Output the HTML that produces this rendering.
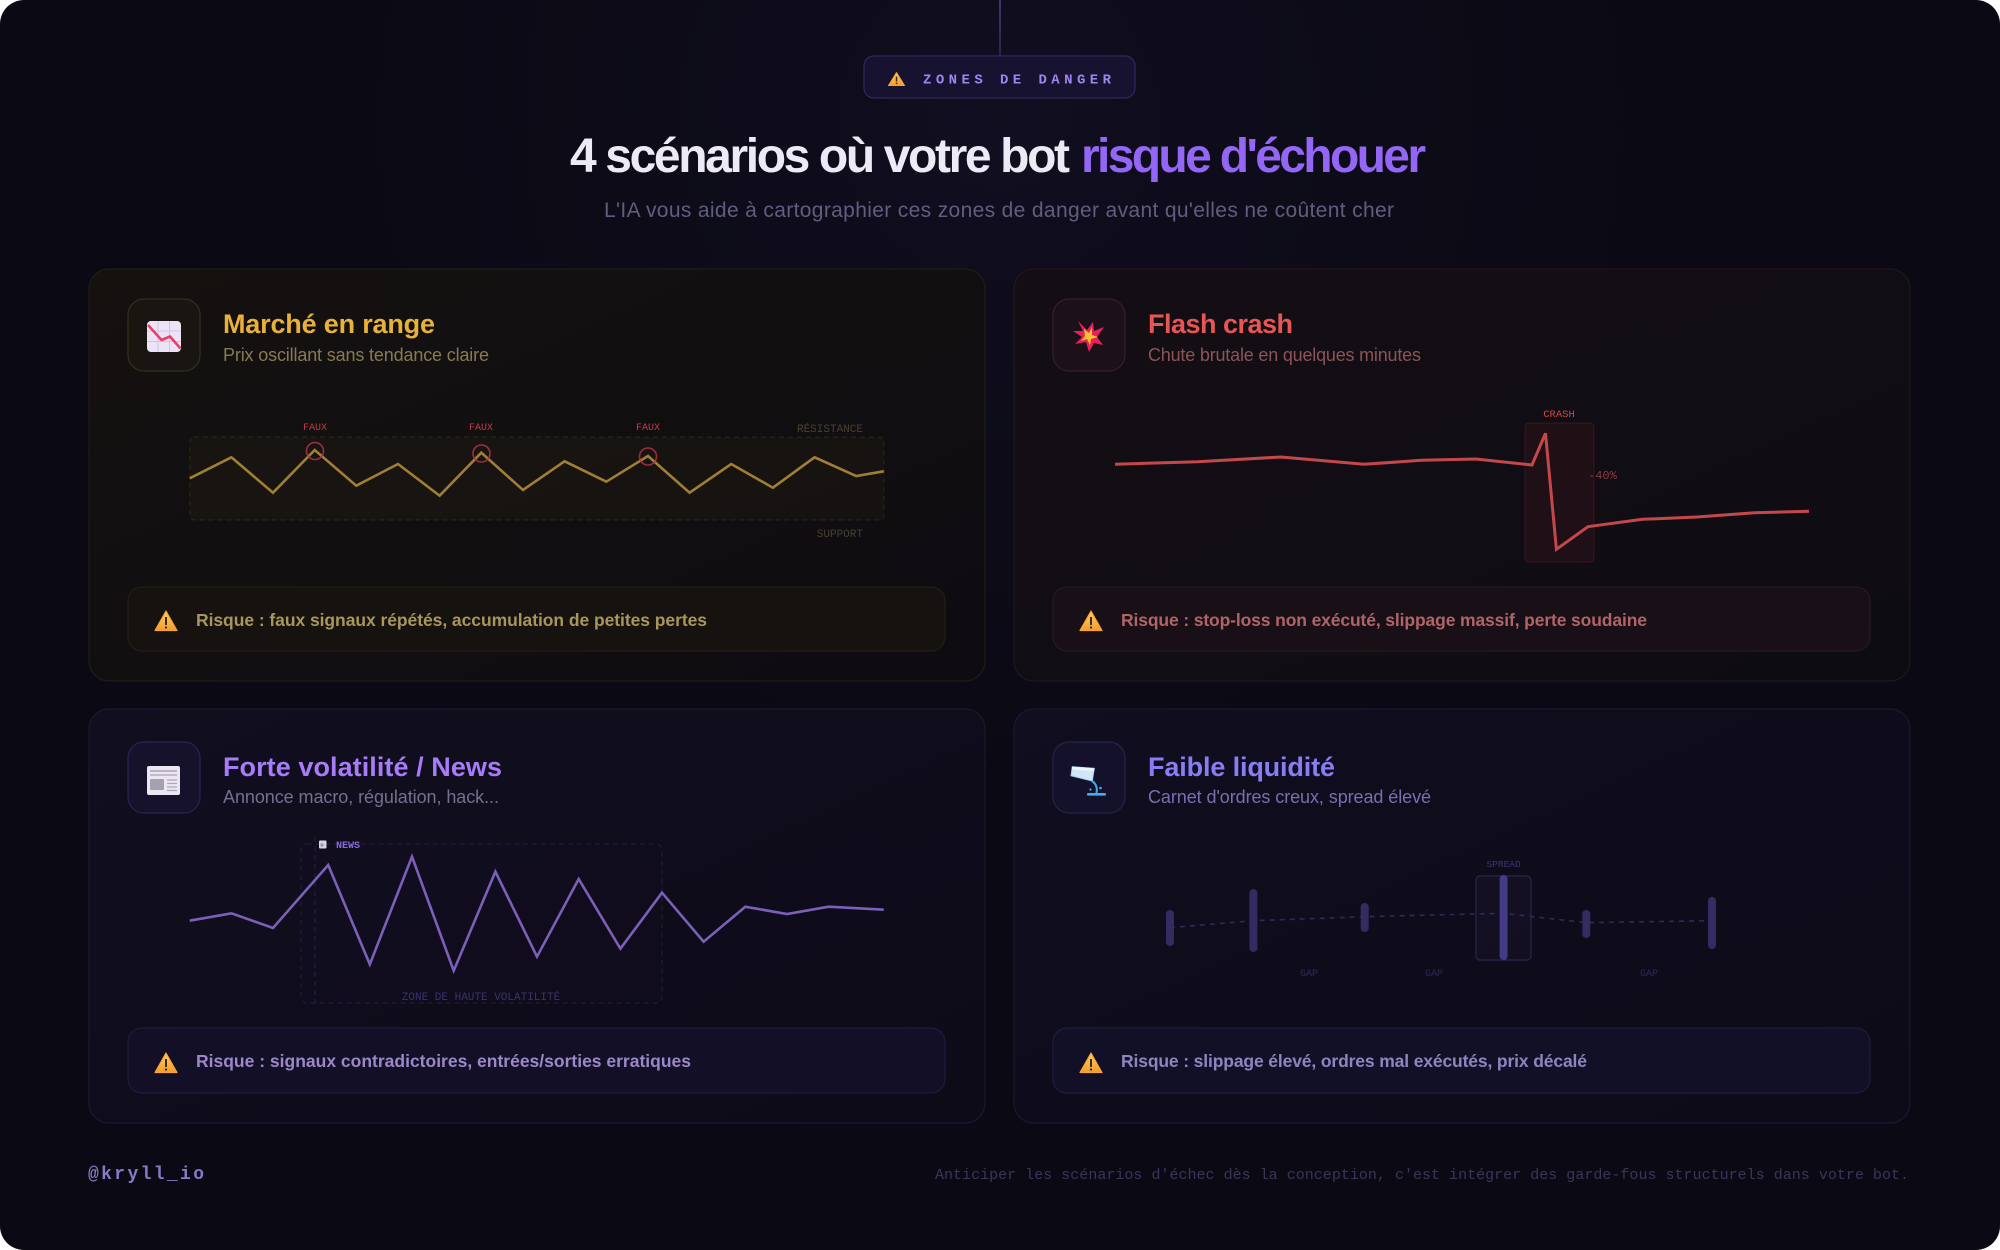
<!DOCTYPE html>
<html>
<head>
<meta charset="utf-8">
<style>
  html,body{margin:0;padding:0;background:#ffffff;}
  svg{display:block;}
</style>
</head>
<body>
<svg width="2000" height="1250" viewBox="0 0 2000 1250" xmlns="http://www.w3.org/2000/svg">
  <defs>
    <radialGradient id="glow" cx="1000" cy="120" r="800" gradientUnits="userSpaceOnUse">
      <stop offset="0" stop-color="#181330" stop-opacity="0.45"/>
      <stop offset="1" stop-color="#0b0a14" stop-opacity="0"/>
    </radialGradient>
    <linearGradient id="vline" x1="0" y1="0" x2="0" y2="1">
      <stop offset="0" stop-color="#6a55b0" stop-opacity="0.55"/>
      <stop offset="0.7" stop-color="#6a55b0" stop-opacity="0.25"/>
      <stop offset="1" stop-color="#6a55b0" stop-opacity="0"/>
    </linearGradient>
    <linearGradient id="g1" x1="0" y1="0" x2="1" y2="1">
      <stop offset="0" stop-color="#14110f"/>
      <stop offset="1" stop-color="#0e0c11"/>
    </linearGradient>
    <linearGradient id="g2" x1="0" y1="0" x2="1" y2="1">
      <stop offset="0" stop-color="#140e14"/>
      <stop offset="1" stop-color="#0e0c13"/>
    </linearGradient>
    <linearGradient id="g3" x1="0" y1="0" x2="1" y2="1">
      <stop offset="0" stop-color="#110e1f"/>
      <stop offset="1" stop-color="#0d0b17"/>
    </linearGradient>
    <linearGradient id="g4" x1="0" y1="0" x2="1" y2="1">
      <stop offset="0" stop-color="#100e1f"/>
      <stop offset="1" stop-color="#0d0b17"/>
    </linearGradient>
    <linearGradient id="warn" x1="0" y1="0" x2="0" y2="1">
      <stop offset="0" stop-color="#ffd45a"/>
      <stop offset="1" stop-color="#f59a30"/>
    </linearGradient>
  </defs>

  <!-- page background -->
  <rect x="0" y="0" width="2000" height="1250" rx="24" fill="#0b0a14"/>
  <rect x="0" y="0" width="2000" height="1250" rx="24" fill="url(#glow)"/>

  <!-- top vertical line -->
  <rect x="999" y="0" width="2" height="100" fill="url(#vline)"/>

  <!-- badge -->
  <rect x="864" y="56" width="271" height="42" rx="10" fill="#171230" stroke="#33275e" stroke-width="1.2"/>
  <g>
    <path d="M896.5,72.5 L904.5,85.5 L888.5,85.5 Z" fill="url(#warn)" stroke="#f5a238" stroke-width="1" stroke-linejoin="round"/>
    <rect x="895.8" y="76.5" width="1.5" height="5" fill="#3a2a10"/>
    <rect x="895.8" y="82.6" width="1.5" height="1.5" fill="#3a2a10"/>
  </g>
  <text x="923" y="83.5" font-family="'Liberation Mono', monospace" font-weight="bold" font-size="14" fill="#a084f0" textLength="188" lengthAdjust="spacing">ZONES DE DANGER</text>

  <!-- title -->
  <text x="570" y="172" font-family="'Liberation Sans', sans-serif" font-weight="bold" font-size="48" fill="#ecebf5" textLength="500" lengthAdjust="spacing">4 scénarios où votre bot</text>
  <text x="1081" y="172" font-family="'Liberation Sans', sans-serif" font-weight="bold" font-size="48" fill="#9466f5" textLength="345" lengthAdjust="spacing">risque d'échouer</text>

  <!-- subtitle -->
  <text x="604" y="217" font-family="'Liberation Sans', sans-serif" font-size="21" fill="#625c7e" textLength="790" lengthAdjust="spacing">L'IA vous aide à cartographier ces zones de danger avant qu'elles ne coûtent cher</text>

  <!-- ================= CARD 1 ================= -->
  <rect x="89" y="269" width="896" height="412" rx="20" fill="url(#g1)" stroke="#211c18" stroke-width="1.2"/>
  <rect x="128" y="299" width="72" height="72" rx="16" fill="#191510" stroke="#362e1f" stroke-width="1.2"/>
  <!-- chart decreasing icon -->
  <rect x="147" y="321" width="34" height="31" rx="4" fill="#ece4f6"/>
  <line x1="158" y1="321" x2="158" y2="352" stroke="#cfc5e0" stroke-width="1"/>
  <line x1="169.5" y1="321" x2="169.5" y2="352" stroke="#cfc5e0" stroke-width="1"/>
  <line x1="147" y1="331" x2="181" y2="331" stroke="#cfc5e0" stroke-width="1"/>
  <line x1="147" y1="341.5" x2="181" y2="341.5" stroke="#cfc5e0" stroke-width="1"/>
  <polyline points="148,325 161.5,340 170,336.5 180.5,348.5" fill="none" stroke="#e8406a" stroke-width="2.6" stroke-linejoin="round"/>

  <text x="223" y="333" font-family="'Liberation Sans', sans-serif" font-weight="bold" font-size="27" fill="#e8b23a" textLength="212" lengthAdjust="spacing">Marché en range</text>
  <text x="223" y="361" font-family="'Liberation Sans', sans-serif" font-size="18" fill="#8a7a52" textLength="266" lengthAdjust="spacing">Prix oscillant sans tendance claire</text>

  <!-- range chart -->
  <rect x="190" y="437" width="694" height="83" rx="4" fill="#e8b23a" fill-opacity="0.03" stroke="#e8b23a" stroke-opacity="0.11" stroke-width="1.2" stroke-dasharray="5 4"/>
  <text x="315" y="430" text-anchor="middle" font-family="'Liberation Mono', monospace" font-size="10" fill="#c83a48">FAUX</text>
  <text x="481" y="430" text-anchor="middle" font-family="'Liberation Mono', monospace" font-size="10" fill="#c83a48">FAUX</text>
  <text x="648" y="430" text-anchor="middle" font-family="'Liberation Mono', monospace" font-size="10" fill="#c83a48">FAUX</text>
  <text x="863" y="432" text-anchor="end" font-family="'Liberation Mono', monospace" font-size="11" fill="#4a4030">RÉSISTANCE</text>
  <text x="863" y="537" text-anchor="end" font-family="'Liberation Mono', monospace" font-size="11" fill="#4a4030">SUPPORT</text>
  <polyline points="189.7,478.3 231.4,457.3 273,492.7 314.7,450 356.3,485.7 398,464 439.6,495.7 481.3,452.7 523,490 564.6,461.3 606.3,481.7 648,456 689.6,492.7 731.2,464 772.9,487.7 814.6,457.3 856.2,476 883.8,471.3" fill="none" stroke="#a07e35" stroke-width="2.6" stroke-linejoin="miter"/>
  <circle cx="315" cy="451" r="8.5" fill="none" stroke="#b03545" stroke-opacity="0.85" stroke-width="1.6"/>
  <circle cx="481.5" cy="453.5" r="8.5" fill="none" stroke="#b03545" stroke-opacity="0.85" stroke-width="1.6"/>
  <circle cx="648" cy="456.5" r="8.5" fill="none" stroke="#b03545" stroke-opacity="0.85" stroke-width="1.6"/>

  <!-- risk box 1 -->
  <rect x="128" y="587" width="817" height="64" rx="14" fill="#16120f" stroke="#241e15" stroke-width="1.2"/>
  <path d="M166,611 L177,630.5 L155,630.5 Z" fill="url(#warn)" stroke="#f5a238" stroke-width="1.2" stroke-linejoin="round"/>
  <rect x="165" y="617" width="2" height="8" fill="#3a2a10"/>
  <rect x="165" y="626.5" width="2" height="2" fill="#3a2a10"/>
  <text x="196" y="626" font-family="'Liberation Sans', sans-serif" font-weight="bold" font-size="17.5" fill="#a8965a" textLength="511" lengthAdjust="spacing">Risque : faux signaux répétés, accumulation de petites pertes</text>

  <!-- ================= CARD 2 ================= -->
  <rect x="1014" y="269" width="896" height="412" rx="20" fill="url(#g2)" stroke="#23161d" stroke-width="1.2"/>
  <rect x="1053" y="299" width="72" height="72" rx="16" fill="#1c1119" stroke="#381e29" stroke-width="1.2"/>
  <!-- collision icon -->
  <polygon points="1078,321 1087,330 1093,322 1094,331 1104,327 1097,337 1103,345 1094,343 1089,352 1086,342 1075,344 1082,337 1073,331 1083,331" fill="#e8205a"/>
  <polygon points="1084,329 1089,333 1092,327 1092,335 1098,337 1091,339 1090,345 1087,339 1081,341 1085,336" fill="#f8c22c"/>

  <text x="1148" y="333" font-family="'Liberation Sans', sans-serif" font-weight="bold" font-size="27" fill="#e85555" textLength="145" lengthAdjust="spacing">Flash crash</text>
  <text x="1148" y="361" font-family="'Liberation Sans', sans-serif" font-size="18" fill="#8a5458" textLength="273" lengthAdjust="spacing">Chute brutale en quelques minutes</text>

  <!-- crash chart -->
  <rect x="1525" y="423" width="69" height="139" rx="4" fill="#dc3c46" fill-opacity="0.07" stroke="#dc3c46" stroke-opacity="0.15" stroke-width="1.2"/>
  <text x="1559" y="417" text-anchor="middle" font-family="'Liberation Mono', monospace" font-size="10.5" fill="#d04848">CRASH</text>
  <text x="1588" y="479" font-family="'Liberation Mono', monospace" font-size="12" fill="#8a3a40">-40%</text>
  <polyline points="1115,464.3 1197.7,461.7 1281,457 1364,464.3 1421.5,460.3 1476,459 1532,465 1545.5,433.3 1556.4,549.3 1588,526.7 1642.5,519.3 1697,517 1754.5,512.7 1809,511.3" fill="none" stroke="#c4484a" stroke-width="3" stroke-linejoin="miter"/>

  <!-- risk box 2 -->
  <rect x="1053" y="587" width="817" height="64" rx="14" fill="#181016" stroke="#28191f" stroke-width="1.2"/>
  <path d="M1091,611 L1102,630.5 L1080,630.5 Z" fill="url(#warn)" stroke="#f5a238" stroke-width="1.2" stroke-linejoin="round"/>
  <rect x="1090" y="617" width="2" height="8" fill="#3a2a10"/>
  <rect x="1090" y="626.5" width="2" height="2" fill="#3a2a10"/>
  <text x="1121" y="626" font-family="'Liberation Sans', sans-serif" font-weight="bold" font-size="17.5" fill="#b06468" textLength="526" lengthAdjust="spacing">Risque : stop-loss non exécuté, slippage massif, perte soudaine</text>

  <!-- ================= CARD 3 ================= -->
  <rect x="89" y="709" width="896" height="414" rx="20" fill="url(#g3)" stroke="#1c1830" stroke-width="1.2"/>
  <rect x="128" y="742" width="72" height="71" rx="16" fill="#17122b" stroke="#2c234f" stroke-width="1.2"/>
  <!-- newspaper icon -->
  <rect x="147" y="766" width="33" height="29" rx="2" fill="#ebe6f2"/>
  <line x1="150" y1="771" x2="177" y2="771" stroke="#a9a4b6" stroke-width="1.6"/>
  <line x1="150" y1="775" x2="177" y2="775" stroke="#a9a4b6" stroke-width="1.2"/>
  <rect x="150" y="779" width="14" height="11" rx="1" fill="#a5a1af"/>
  <line x1="167" y1="780" x2="177" y2="780" stroke="#a9a4b6" stroke-width="1.2"/>
  <line x1="167" y1="783.5" x2="177" y2="783.5" stroke="#a9a4b6" stroke-width="1.2"/>
  <line x1="167" y1="787" x2="177" y2="787" stroke="#a9a4b6" stroke-width="1.2"/>
  <line x1="167" y1="790.5" x2="177" y2="790.5" stroke="#a9a4b6" stroke-width="1.2"/>

  <text x="223" y="776" font-family="'Liberation Sans', sans-serif" font-weight="bold" font-size="27" fill="#a87cf8" textLength="279" lengthAdjust="spacing">Forte volatilité / News</text>
  <text x="223" y="803" font-family="'Liberation Sans', sans-serif" font-size="18" fill="#756f90" textLength="276" lengthAdjust="spacing">Annonce macro, régulation, hack...</text>

  <!-- volatility chart -->
  <rect x="301" y="844" width="361" height="159" rx="6" fill="#7a5ac8" fill-opacity="0.015" stroke="#7a5ac8" stroke-opacity="0.18" stroke-width="1.2" stroke-dasharray="5 4"/>
  <line x1="315" y1="837" x2="315" y2="1003" stroke="#7a5ac8" stroke-opacity="0.22" stroke-width="1.2" stroke-dasharray="5 4"/>
  <rect x="319" y="840.5" width="7.5" height="8" rx="1" fill="#d8d2e4"/>
  <rect x="320.5" y="843.5" width="3" height="3" fill="#9a96a8"/>
  <text x="336" y="848" font-family="'Liberation Mono', monospace" font-weight="bold" font-size="10" fill="#8a6ae0">NEWS</text>
  <text x="481" y="1000" text-anchor="middle" font-family="'Liberation Mono', monospace" font-size="11" fill="#3c3170">ZONE DE HAUTE VOLATILITÉ</text>
  <polyline points="189.7,920.7 231.4,913.3 273,928 328.2,865 369.8,964.3 412,856.7 453.7,970.7 495.4,871.7 537,956.7 578.7,879 620.4,948.7 662,892.7 703.6,941.7 745.3,906.7 787,914 828.6,906.7 883.8,909.7" fill="none" stroke="#7b5fb8" stroke-width="2.6" stroke-linejoin="miter"/>

  <!-- risk box 3 -->
  <rect x="128" y="1028" width="817" height="65" rx="14" fill="#130f26" stroke="#211b3c" stroke-width="1.2"/>
  <path d="M166,1053 L177,1072.5 L155,1072.5 Z" fill="url(#warn)" stroke="#f5a238" stroke-width="1.2" stroke-linejoin="round"/>
  <rect x="165" y="1059" width="2" height="8" fill="#3a2a10"/>
  <rect x="165" y="1068.5" width="2" height="2" fill="#3a2a10"/>
  <text x="196" y="1067" font-family="'Liberation Sans', sans-serif" font-weight="bold" font-size="17.5" fill="#9c88c8" textLength="495" lengthAdjust="spacing">Risque : signaux contradictoires, entrées/sorties erratiques</text>

  <!-- ================= CARD 4 ================= -->
  <rect x="1014" y="709" width="896" height="414" rx="20" fill="url(#g4)" stroke="#1b1930" stroke-width="1.2"/>
  <rect x="1053" y="742" width="72" height="71" rx="16" fill="#14122a" stroke="#272347" stroke-width="1.2"/>
  <!-- pouring liquid icon -->
  <polygon points="1072.3,766.7 1094.3,768.3 1092.3,781 1071,775.7" fill="#cfe6fb" stroke="#a8d0f5" stroke-width="1"/>
  <polygon points="1072.3,766.7 1094.3,768.3 1093.8,771 1072,769.5" fill="#eef7ff"/>
  <path d="M1092,781 Q1098,785 1096.5,793" fill="none" stroke="#4aa8f0" stroke-width="2"/>
  <circle cx="1100.5" cy="788" r="1.3" fill="#4aa8f0"/>
  <circle cx="1090.5" cy="789.5" r="1.1" fill="#4aa8f0"/>
  <rect x="1087" y="793" width="19" height="2.6" rx="1" fill="#4aa8f0"/>

  <text x="1148" y="776" font-family="'Liberation Sans', sans-serif" font-weight="bold" font-size="27" fill="#8a7cf5" textLength="187" lengthAdjust="spacing">Faible liquidité</text>
  <text x="1148" y="803" font-family="'Liberation Sans', sans-serif" font-size="18" fill="#7670b0" textLength="283" lengthAdjust="spacing">Carnet d'ordres creux, spread élevé</text>

  <!-- liquidity chart -->
  <polyline points="1170,927.7 1253.4,920.7 1364.7,916.7 1503.6,913.3 1586.3,922.7 1712,920.7" fill="none" stroke="#2e2a58" stroke-width="1.6" stroke-dasharray="5 5"/>
  <rect x="1476" y="876" width="55" height="84" rx="4" fill="#5046a0" fill-opacity="0.05" stroke="#2a2650" stroke-width="1.2"/>
  <text x="1503.6" y="867" text-anchor="middle" font-family="'Liberation Mono', monospace" font-size="9.5" fill="#3a3470">SPREAD</text>
  <rect x="1166" y="910" width="8" height="36" rx="4" fill="#322c62"/>
  <rect x="1249.4" y="889" width="8" height="63" rx="4" fill="#322c62"/>
  <rect x="1360.7" y="903" width="8" height="29" rx="4" fill="#322c62"/>
  <rect x="1499.6" y="875" width="8" height="85" rx="4" fill="#433a88"/>
  <rect x="1582.3" y="910" width="8" height="28" rx="4" fill="#322c62"/>
  <rect x="1708" y="897" width="8" height="52" rx="4" fill="#322c62"/>
  <text x="1309" y="976" text-anchor="middle" font-family="'Liberation Mono', monospace" font-size="10" fill="#2c2856">GAP</text>
  <text x="1434" y="976" text-anchor="middle" font-family="'Liberation Mono', monospace" font-size="10" fill="#2c2856">GAP</text>
  <text x="1649" y="976" text-anchor="middle" font-family="'Liberation Mono', monospace" font-size="10" fill="#2c2856">GAP</text>

  <!-- risk box 4 -->
  <rect x="1053" y="1028" width="817" height="65" rx="14" fill="#121026" stroke="#201d3b" stroke-width="1.2"/>
  <path d="M1091,1053 L1102,1072.5 L1080,1072.5 Z" fill="url(#warn)" stroke="#f5a238" stroke-width="1.2" stroke-linejoin="round"/>
  <rect x="1090" y="1059" width="2" height="8" fill="#3a2a10"/>
  <rect x="1090" y="1068.5" width="2" height="2" fill="#3a2a10"/>
  <text x="1121" y="1067" font-family="'Liberation Sans', sans-serif" font-weight="bold" font-size="17.5" fill="#8c86c0" textLength="466" lengthAdjust="spacing">Risque : slippage élevé, ordres mal exécutés, prix décalé</text>

  <!-- footer -->
  <text x="88" y="1179" font-family="'Liberation Mono', monospace" font-weight="bold" font-size="18" fill="#8a78c8" textLength="116" lengthAdjust="spacing">@kryll_io</text>
  <text x="935" y="1179" font-family="'Liberation Mono', monospace" font-size="15" fill="#3a3558" textLength="974" lengthAdjust="spacing">Anticiper les scénarios d'échec dès la conception, c'est intégrer des garde-fous structurels dans votre bot.</text>
</svg>
</body>
</html>
